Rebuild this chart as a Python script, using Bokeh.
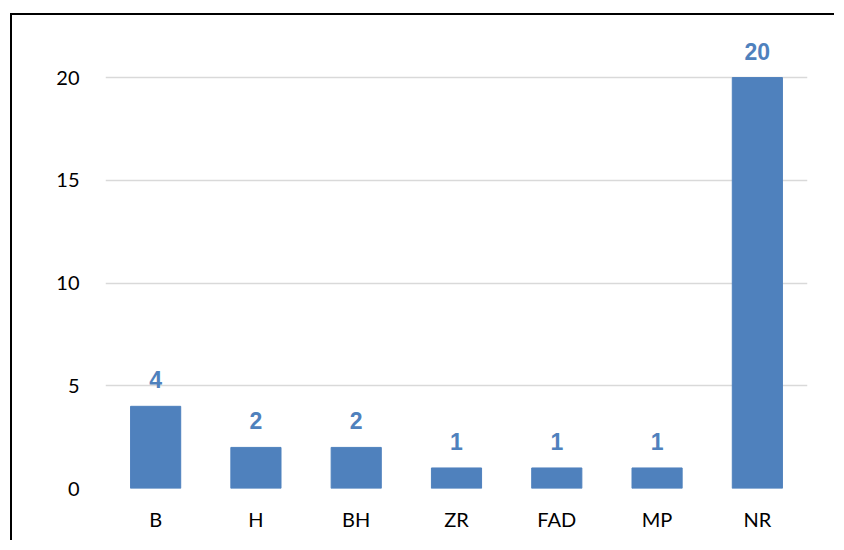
from bokeh.plotting import figure
from bokeh.models import ColumnDataSource, FixedTicker
from bokeh.core.properties import value
from bokeh.embed import file_html
from bokeh.resources import INLINE

categories = ["B", "H", "BH", "ZR", "FAD", "MP", "NR"]
counts = [4, 2, 2, 1, 1, 1, 20]
y_ticks = [0, 5, 10, 15, 20]

BLUE = "#4F81BD"
FONT = "Lato"
LABEL_FONT = "Liberation Sans"

source = ColumnDataSource(data=dict(cat=categories, val=counts, lbl=[str(v) for v in counts]))

p = figure(
    x_range=categories, y_range=(0, 22),
    width=824, height=527,
    output_backend="svg", toolbar_location=None,
    min_border_left=93, min_border_right=29, min_border_top=21, min_border_bottom=54,
    styles={"border-left": "2px solid black", "border-top": "2px solid black",
            "margin-left": "10px", "margin-top": "13px"},
)
p.outline_line_color = None
p.x_range.range_padding = 0

p.vbar(x="cat", top="val", width=0.5, source=source, color=BLUE)

p.text(x="cat", y="val", text="lbl", source=source, y_offset=-18,
       text_align="center", text_baseline="bottom",
       text_font=value(LABEL_FONT), text_font_size="23px", text_font_style="bold",
       text_color=BLUE)

p.xgrid.grid_line_color = None
p.ygrid.grid_line_color = "#D9D9D9"
p.ygrid.grid_line_width = 1.3
p.yaxis.ticker = FixedTicker(ticks=y_ticks)

for ax in (p.xaxis, p.yaxis):
    ax.axis_line_color = None
    ax.major_tick_line_color = None
    ax.minor_tick_line_color = None
    ax.major_label_text_font = FONT
    ax.major_label_text_font_size = "20px"
    ax.major_label_text_color = "#000000"
p.yaxis.major_label_standoff = 20
p.xaxis.major_label_standoff = 12

open("out.html", "w").write(file_html(p, INLINE))
